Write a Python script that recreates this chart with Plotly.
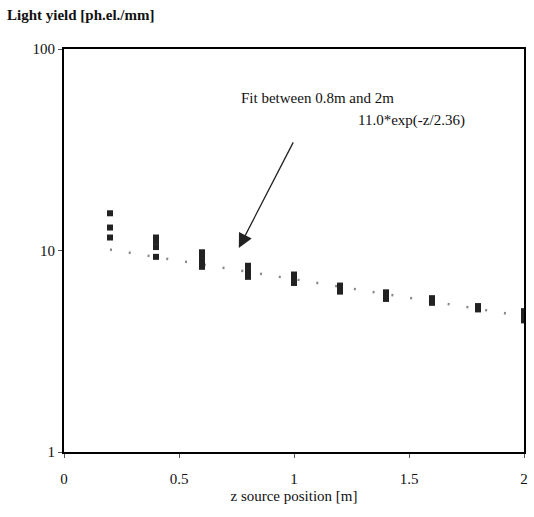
import plotly.graph_objects as go
import numpy as np

# Measured points (z in m, light yield in ph.el./mm)
z_pos = [0.2, 0.2, 0.2,
         0.4, 0.4, 0.4, 0.4,
         0.6, 0.6, 0.6, 0.6, 0.6,
         0.8, 0.8, 0.8,
         1.0, 1.0, 1.0,
         1.2, 1.2, 1.2,
         1.4, 1.4, 1.4,
         1.6, 1.6,
         1.8, 1.8,
         2.0, 2.0, 2.0]
yield_vals = [15.3, 13.0, 11.6,
              11.6, 11.1, 10.4, 9.3,
              9.8, 9.4, 9.0, 8.6, 8.3,
              8.4, 7.9, 7.4,
              7.6, 7.2, 6.9,
              6.7, 6.45, 6.25,
              6.2, 5.95, 5.75,
              5.8, 5.5,
              5.3, 5.1,
              5.0, 4.7, 4.5]

# Fit parameters (from the annotation)
fit_a = 11.0
fit_tau = 2.36
fit_z = np.linspace(0.2, 2.0, 200)
fit_y = fit_a * np.exp(-fit_z / fit_tau)

serif = "Liberation Serif, Times New Roman, serif"

fig = go.Figure()
fig.add_trace(go.Scatter(
    x=fit_z, y=fit_y, mode="lines",
    line=dict(color="#888888", width=2.5, dash="2px,17px"),
    showlegend=False, hoverinfo="skip"))
fig.add_trace(go.Scatter(
    x=z_pos, y=yield_vals, mode="markers",
    marker=dict(symbol="square", size=6, color="#222222"),
    showlegend=False))

fig.update_layout(
    width=534, height=517,
    margin=dict(l=64, r=6, t=49, b=65),
    paper_bgcolor="white", plot_bgcolor="white",
    font=dict(family=serif, size=15, color="#111111"),
    xaxis=dict(range=[0, 2], tickvals=[0, 0.5, 1, 1.5, 2],
               ticktext=["0", "0.5", "1", "1.5", "2"],
               showgrid=False, zeroline=False, showline=True,
               linecolor="black", linewidth=2, mirror=True,
               ticks="outside", ticklen=4, tickcolor="#555",
               ticklabelstandoff=8,
               title=dict(text="z source position [m]", standoff=4,
                          font=dict(family=serif, size=15))),
    yaxis=dict(type="log", range=[0, 2], tickvals=[1, 10, 100],
               ticktext=["1", "10", "100"],
               showgrid=False, zeroline=False, showline=True,
               linecolor="black", linewidth=2, mirror=True,
               ticks="outside", ticklen=4, tickcolor="#555"),
)

fig.add_annotation(text="<b>Light yield [ph.el./mm]</b>", xref="paper", yref="paper",
                   x=-0.129, y=1.084, xanchor="left", yanchor="middle",
                   showarrow=False, font=dict(family=serif, size=15))
fig.add_annotation(text="Fit between 0.8m and 2m", xref="x", yref="y",
                   x=1.10, y=np.log10(57), xanchor="center", yanchor="middle",
                   showarrow=False, font=dict(family=serif, size=15))
fig.add_annotation(text="11.0*exp(-z/2.36)", xref="x", yref="y",
                   x=1.51, y=np.log10(44), xanchor="center", yanchor="middle",
                   showarrow=False, font=dict(family=serif, size=15))
fig.add_annotation(x=0.76, y=np.log10(10.3), ax=1.0, ay=np.log10(35),
                   xref="x", yref="y", axref="x", ayref="y",
                   text="", showarrow=True, arrowhead=2, arrowsize=2.2,
                   arrowwidth=1.3, arrowcolor="#222222")

fig.write_html("out.html")
